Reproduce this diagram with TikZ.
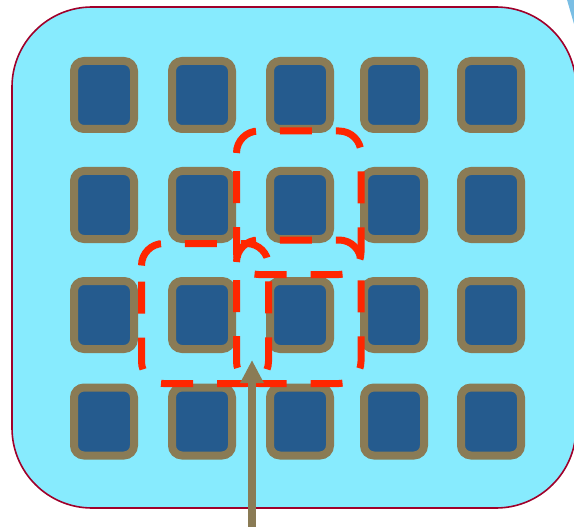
\documentclass[tikz,border=0pt]{standalone}
\usetikzlibrary{arrows.meta}
\definecolor{boardfill}{RGB}{135,235,254}
\definecolor{boardline}{RGB}{160,0,42}
\definecolor{cellline}{RGB}{138,123,85}
\definecolor{cellfill}{RGB}{37,91,142}
\definecolor{winred}{RGB}{255,38,0}
\definecolor{skyblue}{RGB}{122,190,228}
\begin{document}
\begin{tikzpicture}[x=1pt,y=-1pt,
  cell/.style={draw=cellline, fill=cellfill, line width=8pt, rounded corners=10pt,
    minimum width=60pt, minimum height=68pt, inner sep=0pt},
  board/.style={draw=boardline, fill=boardfill, line width=1.6pt, rounded corners=80pt,
    minimum width=564pt, minimum height=501pt, inner sep=0pt},
  window/.style={draw=winred, line width=7pt, dash pattern=on 32pt off 24pt, rounded corners=22pt},
  pointer/.style={draw=cellline, line width=7.5pt, -{Triangle[width=22pt,length=23pt]}}]
\useasboundingbox (0,0) rectangle (574,527);
\fill[skyblue] (566.5,-2) -- (576,-2) -- (576,31) -- cycle;
\node[board] (board) at (294,257.5) {};
\foreach \c/\x in {1/104,2/202,3/300,4/394,5/491}
  \foreach \r/\y in {1/95,2/205,3/315,4/421.5}
    \node[cell] (c\r\c) at (\x,\y) {};
% sliding windows
\draw[window] (236.5,153) -- (236.5,131) -- (361,131) -- (361,274.5) -- (236.5,274.5) -- (236.5,153);
\draw[window] (236.5,262) -- (236.5,240) -- (361,240) -- (361,383.5) -- (236.5,383.5) -- (236.5,262);
\draw[window] (141.5,265.5) -- (141.5,243.5) -- (268.5,243.5) -- (268.5,383.5) -- (141.5,383.5) -- (141.5,265.5);
% arrow
\coordinate (foot) at (252,532);
\coordinate (tip) at (252,360);
\draw[pointer] (foot) -- (tip);
\end{tikzpicture}
\end{document}
